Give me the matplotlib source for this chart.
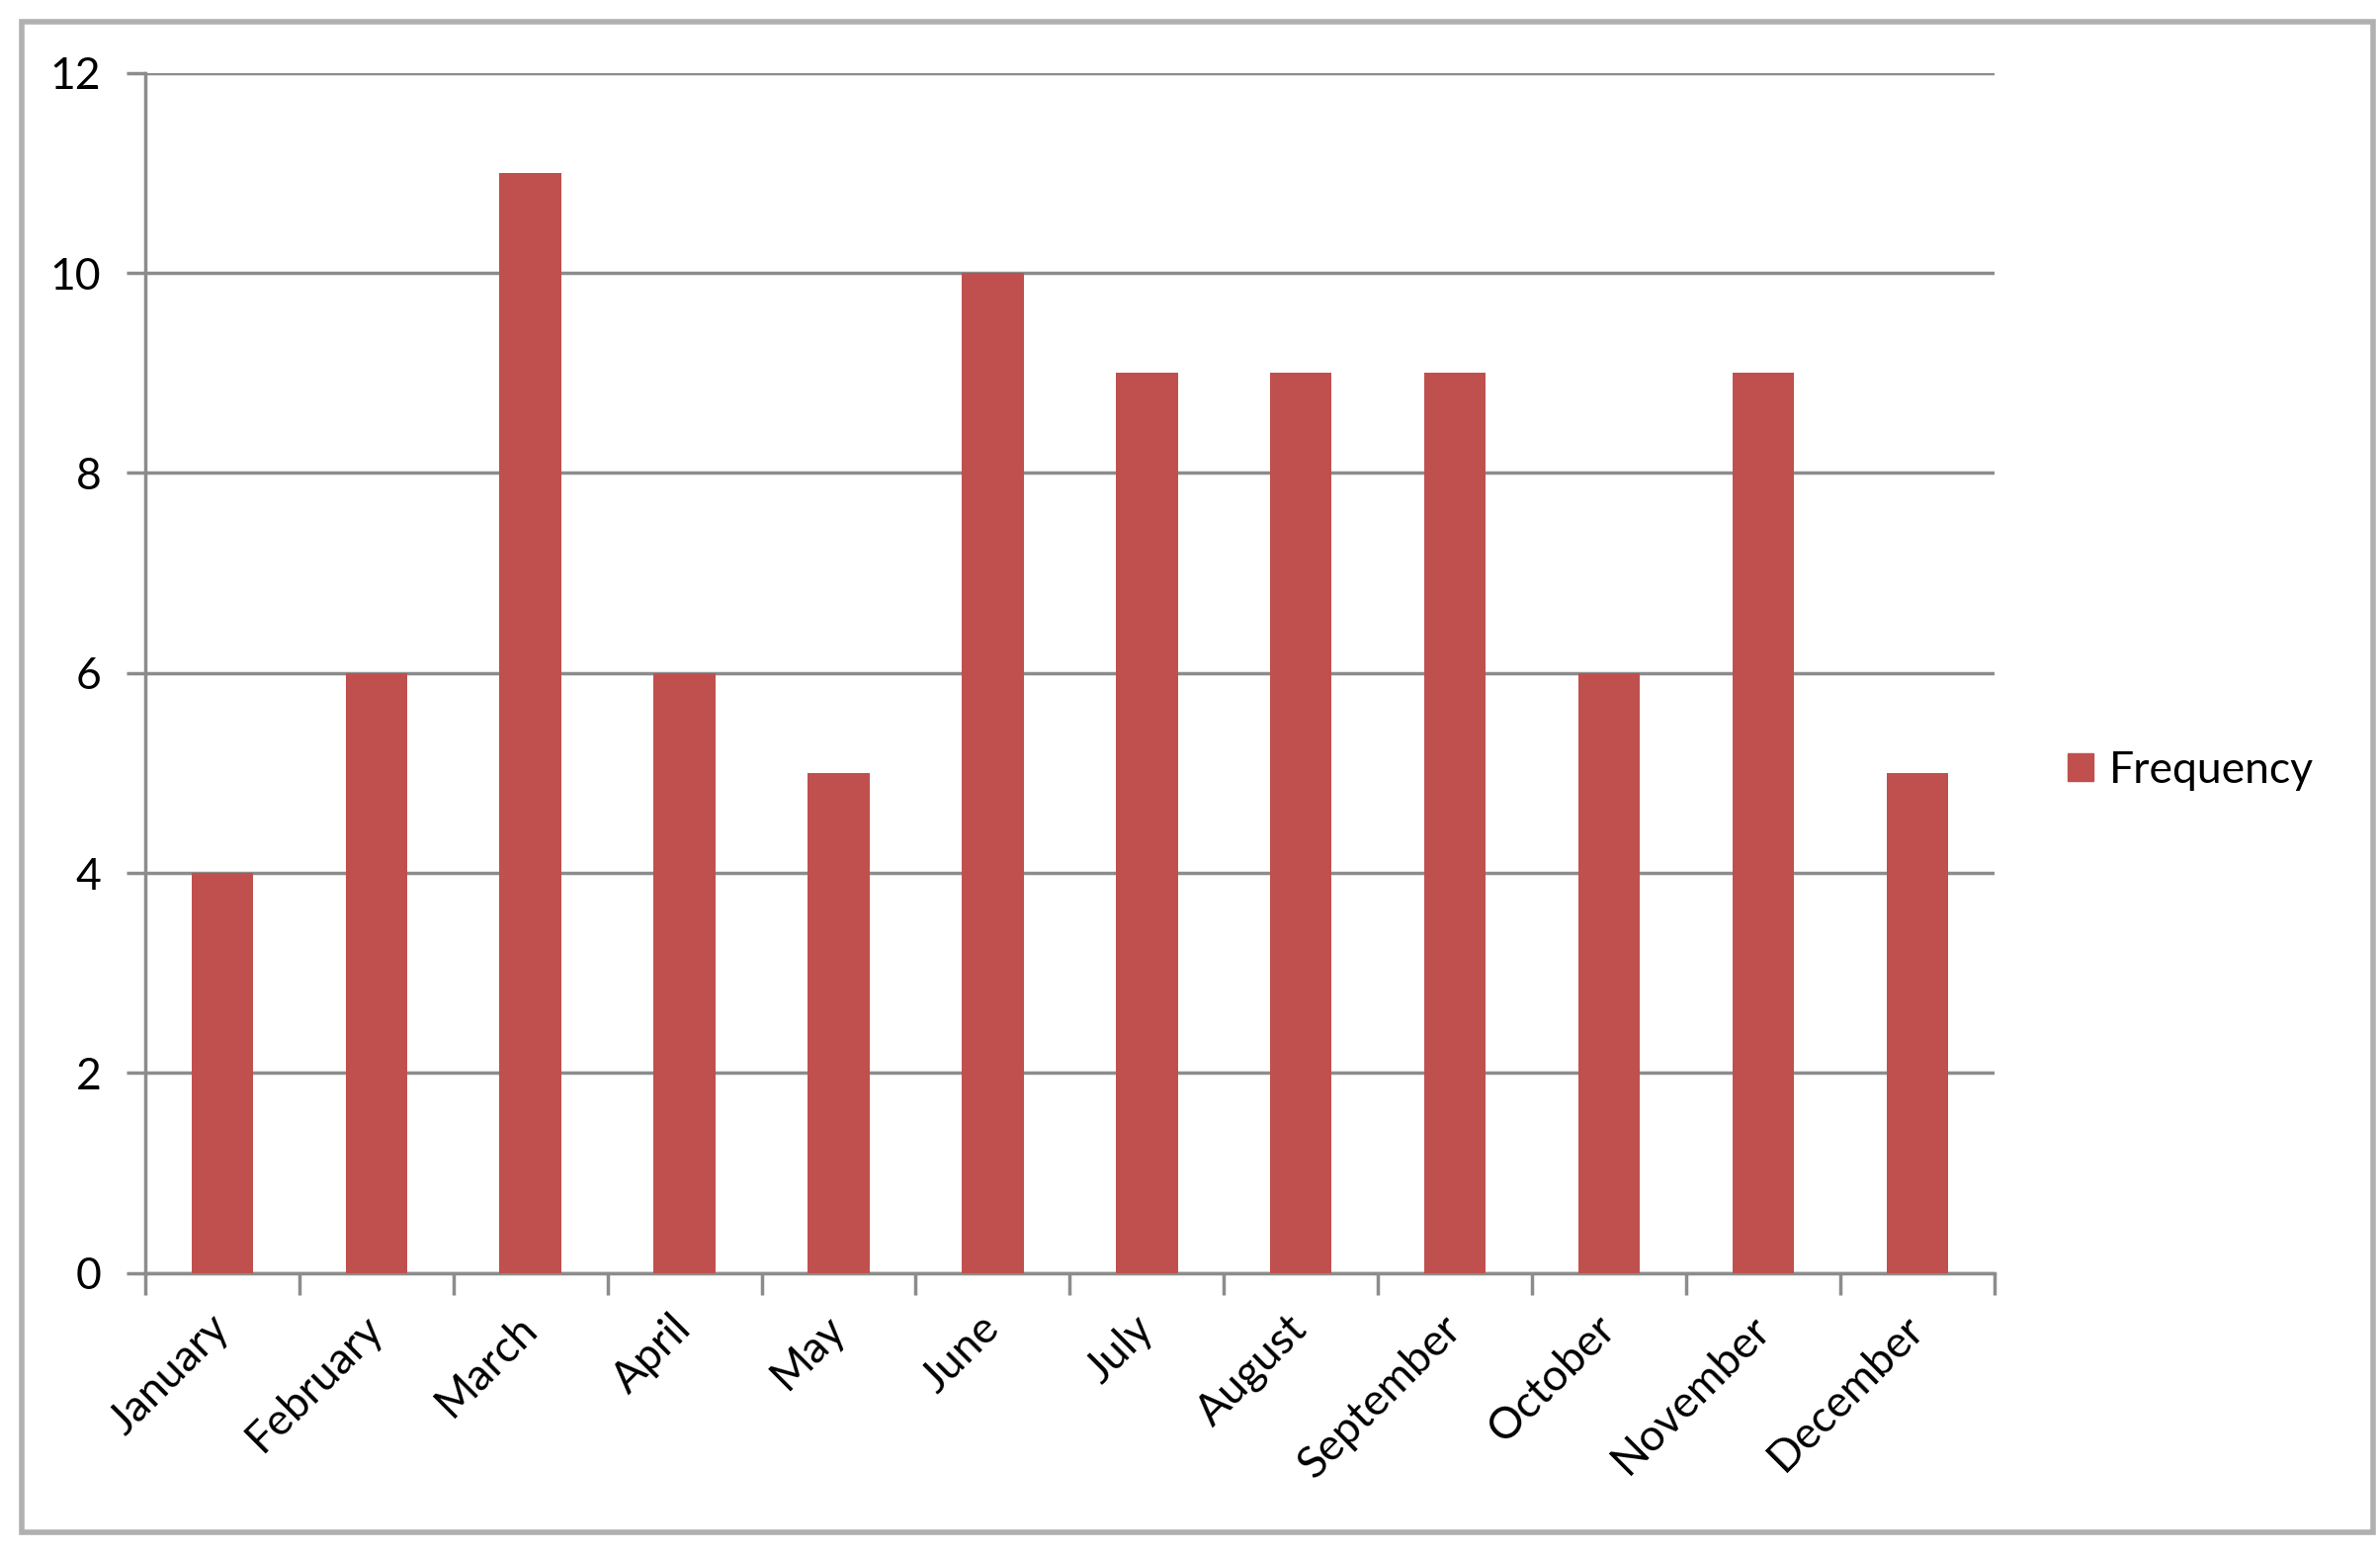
import matplotlib.pyplot as plt
import matplotlib.patches as mpatches
import matplotlib.transforms as mtransforms
import numpy as np

plt.rcParams['font.family'] = ['Lato', 'DejaVu Sans']

months = ['January', 'February', 'March', 'April', 'May', 'June',
          'July', 'August', 'September', 'October', 'November', 'December']
frequency = [4, 6, 11, 6, 5, 10, 9, 9, 9, 6, 9, 5]
y_ticks = [0, 2, 4, 6, 8, 10, 12]

bar_color = '#C0504D'
grid_color = '#8C8C8C'

fig = plt.figure(figsize=(24.08, 15.74), dpi=100)
ax = fig.add_axes([0.061, 0.182, 0.777, 0.771])

x = np.arange(len(months))
ax.bar(x, frequency, width=0.4, color=bar_color, label='Frequency', zorder=3)

ax.set_xlim(-0.5, len(months) - 0.5)
ax.set_ylim(0, 12)
ax.set_yticks(y_ticks)
ax.yaxis.grid(True, color=grid_color, linewidth=2.5, zorder=0)
ax.set_axisbelow(True)

for side in ['top', 'right']:
    ax.spines[side].set_visible(False)
for side in ['left', 'bottom']:
    ax.spines[side].set_color(grid_color)
    ax.spines[side].set_linewidth(2.5)

# category ticks sit between bars, labels at bar centres
ax.set_xticks(np.arange(len(months) + 1) - 0.5)
ax.set_xticklabels([])
ax.set_xticks(x, minor=True)
ax.set_xticklabels(months, minor=True, rotation=45, ha='right', va='center',
                   rotation_mode='anchor', fontsize=32)
shift = mtransforms.ScaledTranslation(0.18, 0, fig.dpi_scale_trans)
for lbl in ax.get_xticklabels(minor=True):
    lbl.set_transform(lbl.get_transform() + shift)
ax.tick_params(axis='x', which='major', length=16, width=2.5, color=grid_color)
ax.tick_params(axis='x', which='minor', length=0, pad=36)
ax.tick_params(axis='y', length=14, width=2.5, color=grid_color, labelsize=32, pad=18)

handle = mpatches.Patch(color=bar_color, label='Frequency')
fig.legend(handles=[handle], loc='center left', bbox_to_anchor=(0.852, 0.505),
           frameon=False, fontsize=32, handlelength=0.6, handleheight=0.6,
           handletextpad=0.35)

# outer chart border
border = mpatches.Rectangle((0.009, 0.015), 0.988, 0.971, transform=fig.transFigure,
                            fill=False, edgecolor='#B0B0B0', linewidth=4)
fig.patches.append(border)

fig.savefig('out.png', dpi=100)
